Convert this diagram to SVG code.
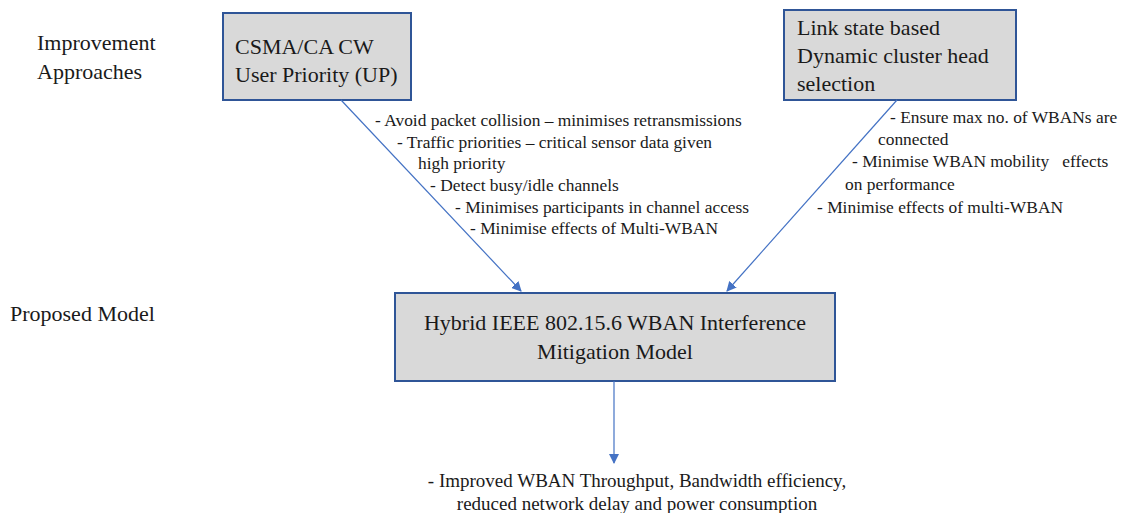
<svg xmlns="http://www.w3.org/2000/svg" width="1132" height="513" viewBox="0 0 1132 513">
  <defs>
    <marker id="arrow" viewBox="0 0 10 10" refX="9" refY="5" markerWidth="10" markerHeight="10" markerUnits="userSpaceOnUse" orient="auto">
      <path d="M0,0 L10,5 L0,10 Z" fill="#4472C4"/>
    </marker>
    <style>
      text { font-family: 'Liberation Serif', serif; fill: #1a1a1a; }
      .box { fill: #D9D9D9; stroke: #2F5597; stroke-width: 2; }
      .big { font-size: 22px; }
      .note { font-size: 17.4px; }
      .out { font-size: 19px; }
      .link { stroke: #4472C4; stroke-width: 1.2; fill: none; marker-end: url(#arrow); }
    </style>
  </defs>
  <rect width="1132" height="513" fill="#ffffff"/>

  <!-- row labels -->
  <g id="labels">
    <text class="big" x="37" y="50">Improvement</text>
    <text class="big" x="37" y="79">Approaches</text>
    <text class="big" x="10" y="321">Proposed Model</text>
  </g>

  <g id="csma">
    <rect class="box" x="223" y="13" width="188" height="87"/>
    <text class="big" x="235" y="54">CSMA/CA CW</text>
    <text class="big" x="235" y="82">User Priority (UP)</text>
  </g>

  <g id="linkstate">
    <rect class="box" x="784" y="10" width="232" height="90"/>
    <text class="big" x="797" y="35">Link state based</text>
    <text class="big" x="797" y="63">Dynamic cluster head</text>
    <text class="big" x="797" y="91">selection</text>
  </g>

  <g id="hybrid">
    <rect class="box" x="395" y="293" width="440" height="88"/>
    <text class="big" x="615" y="330" text-anchor="middle">Hybrid IEEE 802.15.6 WBAN Interference</text>
    <text class="big" x="615" y="359" text-anchor="middle">Mitigation Model</text>
  </g>

  <g id="connectors">
    <line class="link" x1="341" y1="100" x2="521" y2="291"/>
    <line class="link" x1="897" y1="100" x2="727" y2="291"/>
    <line class="link" x1="614" y1="381" x2="614" y2="463"/>
  </g>

  <g id="csma-notes">
    <text class="note" x="375" y="126">- Avoid packet collision – minimises retransmissions</text>
    <text class="note" x="397" y="148">- Traffic priorities – critical sensor data given</text>
    <text class="note" x="418" y="169">high priority</text>
    <text class="note" x="430" y="191">- Detect busy/idle channels</text>
    <text class="note" x="455" y="213">- Minimises participants in channel access</text>
    <text class="note" x="470" y="234">- Minimise effects of Multi-WBAN</text>
  </g>

  <g id="linkstate-notes">
    <text class="note" x="890" y="123">- Ensure max no. of WBANs are</text>
    <text class="note" x="878" y="145">connected</text>
    <text class="note" x="852" y="167" xml:space="preserve">- Minimise WBAN mobility   effects</text>
    <text class="note" x="845" y="190">on performance</text>
    <text class="note" x="817" y="213">- Minimise effects of multi-WBAN</text>
  </g>

  <g id="outcome">
    <text class="out" x="637" y="487" text-anchor="middle">- Improved WBAN Throughput, Bandwidth efficiency,</text>
    <text class="out" x="637" y="510" text-anchor="middle">reduced network delay and power consumption</text>
  </g>
</svg>
